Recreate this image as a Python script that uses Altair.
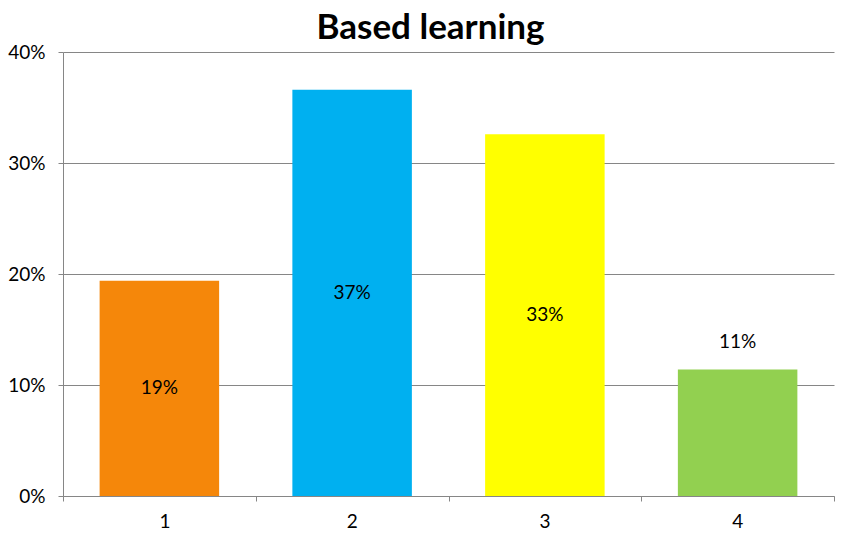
import altair as alt
import pandas as pd

categories = ["1", "2", "3", "4"]
values = [0.194, 0.366, 0.326, 0.114]
labels = ["19%", "37%", "33%", "11%"]
colors = ["#F5870A", "#00B0F0", "#FFFF00", "#92D050"]
inside = [True, True, True, False]

df = pd.DataFrame({"cat": categories, "value": values, "label": labels,
                   "color": colors, "inside": inside,
                   "idx": list(range(len(categories)))})

FONT = "Lato"
GRID = "#868686"
n = len(categories)
half_gap = 0.19

xscale = alt.Scale(domain=[0, n], nice=False, zero=False, padding=0)
yscale = alt.Scale(domain=[0, 0.4], nice=False, padding=0)
xaxis = alt.Axis(values=list(range(n + 1)), labelExpr=f"datum.value < {n} ? '' + (datum.value + 1) : ''",
                 labelOffset=96, labelFont=FONT, labelFontSize=19, labelColor="#000000",
                 domainColor=GRID, tickColor=GRID, tickSize=5, labelPadding=11, grid=False)

base = alt.Chart(df).transform_calculate(
    x0=f"datum.idx + {half_gap}", x1=f"datum.idx + 1 - {half_gap}", xc="datum.idx + 0.5",
    mid="datum.value / 2", zero="0"
)

bars = base.mark_bar().encode(
    x=alt.X("x0:Q", title=None, scale=xscale, axis=xaxis),
    x2="x1:Q",
    y=alt.Y("value:Q", title=None, scale=yscale,
            axis=alt.Axis(format=".0%", values=[0, 0.1, 0.2, 0.3, 0.4],
                          labelFont=FONT, labelFontSize=19, labelColor="#000000",
                          domainColor=GRID, tickColor=GRID, tickSize=5,
                          grid=True, gridColor=GRID, gridOpacity=1, labelPadding=13)),
    y2="zero:Q",
    color=alt.Color("color:N", scale=None),
)

txt_in = base.transform_filter("datum.inside").mark_text(
    font=FONT, fontSize=19, color="#000000", baseline="middle"
).encode(x=alt.X("xc:Q", scale=xscale), y=alt.Y("mid:Q", scale=yscale), text="label:N")

txt_out = base.transform_filter("!datum.inside").mark_text(
    font=FONT, fontSize=19, color="#000000", baseline="middle", dy=-27
).encode(x=alt.X("xc:Q", scale=xscale), y=alt.Y("value:Q", scale=yscale), text="label:N")

chart = alt.layer(bars, txt_in, txt_out).properties(
    width=771, height=444,
    title=alt.TitleParams("Based learning", font=FONT, fontSize=35, fontWeight="bold",
                          color="#000000", anchor="middle", offset=-3, dx=-18),
    autosize=alt.AutoSizeParams(type="none"),
    padding={"left": 63, "top": 52, "right": 7, "bottom": 44},
).configure_view(stroke=None)

chart.save("out.html", embed_options={"renderer": "svg", "actions": False})
